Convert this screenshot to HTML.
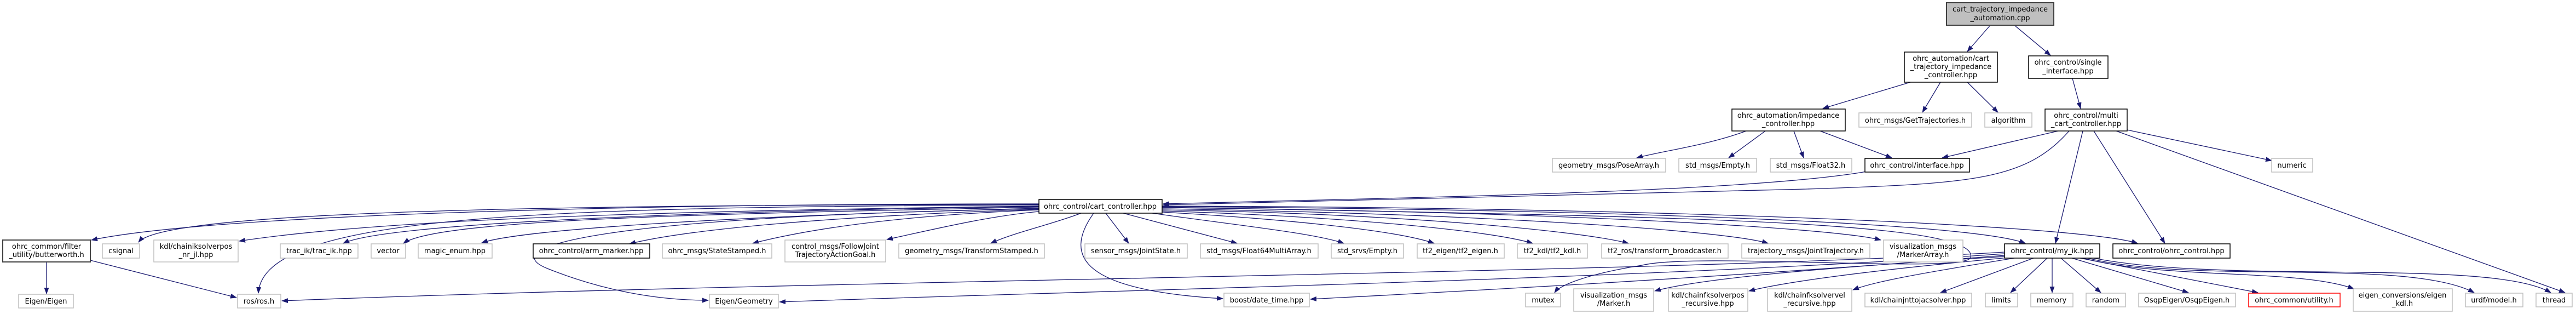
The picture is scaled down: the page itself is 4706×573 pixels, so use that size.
<!DOCTYPE html>
<html><head><meta charset="utf-8"><style>
html,body{margin:0;padding:0;background:#fff;}
svg{display:block;}
text{font-family:"DejaVu Sans","Liberation Sans",sans-serif;font-size:13px;fill:#000;text-anchor:middle;}
.g{fill:#fff;stroke:#bfbfbf;stroke-width:1.5;}
.k{fill:#fff;stroke:#000;stroke-width:1.5;}
.d{fill:#fff;stroke:#404040;stroke-width:2;}
.r{fill:#fff;stroke:#ff0000;stroke-width:1.5;}
.e{fill:none;stroke:#191970;stroke-width:1.3;marker-end:url(#a);}
</style></head><body>
<svg width="4706" height="573" viewBox="0 0 4706 573" xmlns="http://www.w3.org/2000/svg">
<defs><marker id="a" markerWidth="12" markerHeight="9" refX="11" refY="4.5" orient="auto" markerUnits="userSpaceOnUse"><path d="M0,0 L12,4.5 L0,9z" fill="#191970"/></marker></defs>

<!-- edges -->
<path class="e" d="M3636,46 L3594,94"/>
<path class="e" d="M3680,46 L3746,101"/>
<path class="e" d="M3490,150 L3330,198"/>
<path class="e" d="M3545,150 L3512,205"/>
<path class="e" d="M3594,150 L3650,205"/>
<path class="e" d="M3786,143 L3801,198"/>
<path class="e" d="M3190,239 C3120,265 3040,275 2990,288"/>
<path class="e" d="M3225,239 L3158,288"/>
<path class="e" d="M3277,239 L3295,288"/>
<path class="e" d="M3325,239 L3456,288"/>
<path class="e" d="M3760,239 L3548,288"/>
<path class="e" d="M3805,239 L3755,444"/>
<path class="e" d="M3825,239 L3955,444"/>
<path class="e" d="M3886,237 L4150,293"/>
<path class="e" d="M3866,239 L4686,534"/>
<path class="e" d="M3410,313 C3200,350 2600,360 2125,372"/>
<path class="e" d="M3780,239 C3700,330 3600,335 3300,345 C2900,355 2500,365 2125,374"/>

<path class="e" d="M1898,372 C1200,372 400,390 167,438"/>
<path class="e" d="M1898,373 C1000,374 300,385 253,442"/>
<path class="e" d="M1898,376 C1200,385 700,400 437,440"/>
<path class="e" d="M1898,374 C1000,378 480,390 472,535"/>
<path class="e" d="M1898,377 C1200,386 700,410 627,444"/>
<path class="e" d="M1898,378 C1300,390 800,400 737,444"/>
<path class="e" d="M1898,380 C1300,395 950,420 880,443"/>
<path class="e" d="M1898,381 C1100,395 900,450 1000,490 C1100,530 1200,548 1294,548"/>
<path class="e" d="M1898,382 C1500,395 1250,420 1150,445"/>
<path class="e" d="M1898,383 C1600,395 1450,425 1375,444"/>
<path class="e" d="M1898,386 C1800,395 1700,420 1620,437"/>
<path class="e" d="M1975,389 C1920,410 1850,425 1810,444"/>
<path class="e" d="M2020,389 L2062,444"/>
<path class="e" d="M1998,389 C1940,470 1980,530 2234,545"/>
<path class="e" d="M2052,389 L2260,444"/>
<path class="e" d="M2105,389 C2250,410 2400,425 2455,444"/>
<path class="e" d="M2123,387 C2350,400 2550,420 2620,444"/>
<path class="e" d="M2123,385 C2450,395 2720,420 2800,444"/>
<path class="e" d="M2123,383 C2550,390 2880,420 2975,444"/>
<path class="e" d="M2123,381 C2700,390 3150,420 3230,444"/>
<path class="e" d="M2123,379 C2800,385 3350,415 3436,438"/>
<path class="e" d="M2123,377 C2900,382 3600,405 3700,444"/>
<path class="e" d="M2123,376 C3000,378 3800,410 3905,444"/>
<path class="e" d="M2123,378 C3000,395 3620,400 3600,470 C3590,500 3100,460 3000,484 C2900,500 2850,520 2840,534"/>

<path class="e" d="M85,478 L85,536"/>
<path class="e" d="M165,475 L432,543"/>

<path class="e" d="M3662,460 C3000,500 1500,510 515,549"/>
<path class="e" d="M3662,463 C3000,510 2000,530 1424,551"/>
<path class="e" d="M3662,466 C3100,510 2600,535 2394,546"/>
<path class="e" d="M3665,468 C3300,490 3100,510 3023,531"/>
<path class="e" d="M3670,470 C3400,495 3260,515 3195,531"/>
<path class="e" d="M3680,471 C3500,500 3420,515 3385,529"/>
<path class="e" d="M3715,471 L3545,534"/>
<path class="e" d="M3740,471 L3673,534"/>
<path class="e" d="M3749,471 L3749,534"/>
<path class="e" d="M3765,471 L3838,534"/>
<path class="e" d="M3785,471 L3998,534"/>
<path class="e" d="M3800,471 L4125,534"/>
<path class="e" d="M3805,471 C3950,510 4200,490 4300,527"/>
<path class="e" d="M3810,470 C4000,520 4400,470 4520,534"/>
<path class="e" d="M3815,469 C4050,520 4550,470 4660,534"/>

<!-- nodes -->
<rect x="3556" y="5" width="196" height="41" fill="#bfbfbf" stroke="#404040" stroke-width="2"/>
<text x="3654" y="21">cart_trajectory_impedance</text><text x="3654" y="37">_automation.cpp</text>

<rect class="k" x="3479" y="95" width="170" height="55"/>
<text x="3564" y="111">ohrc_automation/cart</text><text x="3564" y="126">_trajectory_impedance</text><text x="3564" y="141">_controller.hpp</text>
<rect class="k" x="3706" y="102" width="145" height="41"/>
<text x="3778" y="118">ohrc_control/single</text><text x="3778" y="134">_interface.hpp</text>

<rect class="k" x="3164" y="199" width="207" height="40"/>
<text x="3267" y="215">ohrc_automation/impedance</text><text x="3267" y="230">_controller.hpp</text>
<rect class="g" x="3396" y="206" width="206" height="26"/><text x="3499" y="224">ohrc_msgs/GetTrajectories.h</text>
<rect class="g" x="3626" y="206" width="86" height="26"/><text x="3669" y="224">algorithm</text>
<rect class="k" x="3736" y="199" width="150" height="40"/>
<text x="3811" y="215">ohrc_control/multi</text><text x="3811" y="230">_cart_controller.hpp</text>

<rect class="g" x="2836" y="289" width="207" height="25"/><text x="2939" y="306">geometry_msgs/PoseArray.h</text>
<rect class="g" x="3067" y="289" width="142" height="25"/><text x="3138" y="306">std_msgs/Empty.h</text>
<rect class="g" x="3234" y="289" width="149" height="25"/><text x="3308" y="306">std_msgs/Float32.h</text>
<rect class="k" x="3407" y="289" width="191" height="25"/><text x="3502" y="306">ohrc_control/interface.hpp</text>
<rect class="g" x="4150" y="289" width="75" height="25"/><text x="4187" y="306">numeric</text>

<rect class="k" x="1898" y="364" width="225" height="25"/><text x="2010" y="381">ohrc_control/cart_controller.hpp</text>

<rect class="d" x="5" y="438" width="160" height="40"/>
<text x="85" y="454">ohrc_common/filter</text><text x="85" y="469">_utility/butterworth.h</text>
<rect class="g" x="187" y="445" width="68" height="26"/><text x="221" y="462">csignal</text>
<rect class="g" x="281" y="438" width="154" height="40"/>
<text x="358" y="454">kdl/chainiksolverpos</text><text x="358" y="469">_nr_jl.hpp</text>
<rect class="g" x="512" y="445" width="142" height="26"/><text x="583" y="462">trac_ik/trac_ik.hpp</text>
<rect class="g" x="678" y="445" width="63" height="26"/><text x="709" y="462">vector</text>
<rect class="g" x="764" y="445" width="135" height="26"/><text x="831" y="462">magic_enum.hpp</text>
<rect class="k" x="974" y="445" width="213" height="26"/><text x="1080" y="462">ohrc_control/arm_marker.hpp</text>
<rect class="g" x="1210" y="445" width="200" height="26"/><text x="1310" y="462">ohrc_msgs/StateStamped.h</text>
<rect class="g" x="1434" y="438" width="184" height="40"/>
<text x="1526" y="454">control_msgs/FollowJoint</text><text x="1526" y="469">TrajectoryActionGoal.h</text>
<rect class="g" x="1642" y="445" width="266" height="26"/><text x="1775" y="462">geometry_msgs/TransformStamped.h</text>
<rect class="g" x="1982" y="445" width="187" height="26"/><text x="2075" y="462">sensor_msgs/JointState.h</text>
<rect class="g" x="2193" y="445" width="215" height="26"/><text x="2300" y="462">std_msgs/Float64MultiArray.h</text>
<rect class="g" x="2432" y="445" width="132" height="26"/><text x="2498" y="462">std_srvs/Empty.h</text>
<rect class="g" x="2589" y="445" width="159" height="26"/><text x="2668" y="462">tf2_eigen/tf2_eigen.h</text>
<rect class="g" x="2772" y="445" width="128" height="26"/><text x="2836" y="462">tf2_kdl/tf2_kdl.h</text>
<rect class="g" x="2926" y="445" width="231" height="26"/><text x="3041" y="462">tf2_ros/transform_broadcaster.h</text>
<rect class="g" x="3182" y="445" width="234" height="26"/><text x="3299" y="462">trajectory_msgs/JointTrajectory.h</text>
<rect class="g" x="3441" y="438" width="145" height="40"/>
<text x="3513" y="454">visualization_msgs</text><text x="3513" y="469">/MarkerArray.h</text>
<rect class="k" x="3662" y="445" width="174" height="26"/><text x="3749" y="462">ohrc_control/my_ik.hpp</text>
<rect class="k" x="3860" y="445" width="214" height="26"/><text x="3967" y="462">ohrc_control/ohrc_control.hpp</text>

<rect class="g" x="34" y="537" width="100" height="25"/><text x="84" y="554">Eigen/Eigen</text>
<rect class="g" x="434" y="537" width="79" height="25"/><text x="473" y="554">ros/ros.h</text>
<rect class="g" x="1296" y="537" width="126" height="25"/><text x="1359" y="554">Eigen/Geometry</text>
<rect class="g" x="2236" y="535" width="156" height="25"/><text x="2314" y="552">boost/date_time.hpp</text>
<rect class="g" x="2787" y="535" width="64" height="25"/><text x="2819" y="552">mutex</text>
<rect class="g" x="2875" y="527" width="146" height="41"/>
<text x="2948" y="543">visualization_msgs</text><text x="2948" y="558">/Marker.h</text>
<rect class="g" x="3048" y="527" width="145" height="41"/>
<text x="3120" y="543">kdl/chainfksolverpos</text><text x="3120" y="558">_recursive.hpp</text>
<rect class="g" x="3229" y="527" width="154" height="41"/>
<text x="3306" y="543">kdl/chainfksolvervel</text><text x="3306" y="558">_recursive.hpp</text>
<rect class="g" x="3407" y="535" width="195" height="25"/><text x="3504" y="552">kdl/chainjnttojacsolver.hpp</text>
<rect class="g" x="3627" y="535" width="59" height="25"/><text x="3656" y="552">limits</text>
<rect class="g" x="3710" y="535" width="77" height="25"/><text x="3748" y="552">memory</text>
<rect class="g" x="3811" y="535" width="72" height="25"/><text x="3847" y="552">random</text>
<rect class="g" x="3907" y="535" width="177" height="25"/><text x="3995" y="552">OsqpEigen/OsqpEigen.h</text>
<rect class="r" x="4108" y="535" width="167" height="25"/><text x="4191" y="552">ohrc_common/utility.h</text>
<rect class="g" x="4299" y="527" width="181" height="41"/>
<text x="4389" y="543">eigen_conversions/eigen</text><text x="4389" y="558">_kdl.h</text>
<rect class="g" x="4504" y="535" width="105" height="25"/><text x="4556" y="552">urdf/model.h</text>
<rect class="g" x="4633" y="535" width="66" height="25"/><text x="4666" y="552">thread</text>
</svg>
</body></html>
